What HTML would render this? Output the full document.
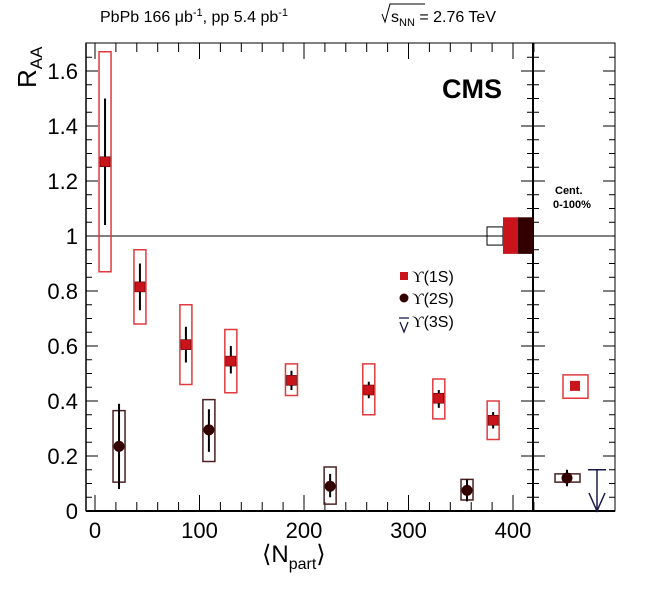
<!DOCTYPE html>
<html><head><meta charset="utf-8"><style>
body{margin:0;background:#fff}
svg{font-family:"Liberation Sans",sans-serif}
</style></head><body>
<svg id="c" width="653" height="586" xmlns="http://www.w3.org/2000/svg">
<text x="100" y="22" font-size="16">PbPb 166 μb<tspan dy="-6" font-size="11">-1</tspan><tspan dy="6">, pp 5.4 pb</tspan><tspan dy="-6" font-size="11">-1</tspan></text>
<g>
<path d="M382,14 L385,22 L390,4 L425,4" fill="none" stroke="#000" stroke-width="1"/>
<text x="391" y="22" font-size="16">s<tspan dy="4" font-size="11">NN</tspan><tspan dy="-4"> = 2.76 TeV</tspan></text>
</g>
<text x="442" y="98" font-size="27" font-weight="bold">CMS</text>
<text x="555" y="194" font-size="11" font-weight="bold">Cent.</text>
<text x="553" y="208" font-size="11" font-weight="bold">0-100%</text>
<text transform="translate(36,88) rotate(-90)" font-size="26">R<tspan dy="6" font-size="17">AA</tspan></text>
<text x="262" y="562" font-size="24">⟨N<tspan dy="7" font-size="16">part</tspan><tspan dy="-7">⟩</tspan></text>
<g id="g"></g>
</svg>
<script>
const npart1=[9.6,43,87,130,188,262,329,381];
const raa1=[1.27,0.815,0.605,0.545,0.475,0.44,0.41,0.33];
const stLo1=[1.04,0.73,0.54,0.50,0.44,0.41,0.375,0.30];
const stHi1=[1.50,0.90,0.67,0.60,0.51,0.47,0.44,0.36];
const syLo1=[0.87,0.68,0.46,0.43,0.42,0.35,0.335,0.26];
const syHi1=[1.67,0.95,0.75,0.66,0.535,0.535,0.48,0.40];
const npart2=[23,109,225,356];
const raa2=[0.235,0.295,0.09,0.075];
const stLo2=[0.08,0.215,0.05,0.035];
const stHi2=[0.39,0.37,0.135,0.115];
const syLo2=[0.105,0.18,0.025,0.04];
const syHi2=[0.365,0.405,0.16,0.115];
const mb1=[0.455,0.41,0.495];
const mb2=[0.12,0.105,0.135];
const ul3=[0.15];
const yTicks=[0,0.2,0.4,0.6,0.8,1,1.2,1.4,1.6];
const yTickLabels=["0","0.2","0.4","0.6","0.8","1","1.2","1.4","1.6"];
const xTicks=[0,100,200,300,400];

const L=86,R=533,R2=615,T=43,B=511;
const X=v=>95+v*1.045;
const Y=v=>511-v*275;
const g=document.getElementById('g');
const NS='http://www.w3.org/2000/svg';
function mk(t,a,name){const e=document.createElementNS(NS,t);for(const k in a)e.setAttribute(k,a[k]);


g.appendChild(e);return e;}
function line(x1,y1,x2,y2,name,c,w){return mk('line',{x1,y1,x2,y2,stroke:c||'#000','stroke-width':w||1},name);}
mk('rect',{x:L,y:T,width:R2-L,height:B-T,fill:'none',stroke:'#000','stroke-width':1},'plot-frame');
line(R,T,R,B,'panel-divider','#000',2);
line(L,B,R2,B,'x-axis','#000',2);
line(L,T,L,B,'y-axis','#000',1.5);
line(L,Y(1),R2,Y(1),'unity-line');
for(let v=0;v<=1.7;v+=0.05){const y=Y(v);const maj=Math.abs(v/0.2-Math.round(v/0.2))<0.01;const l=maj?12:6;
line(L,y,L+l,y,'y-tick');line(R-l,y,R+l,y,'divider-tick');line(R2-l,y,R2,y,'right-tick');}
yTicks.forEach((v,i)=>{const t=mk('text',{x:L-8,y:Y(v)+8,'font-size':22,'text-anchor':'end'},'y-tick-label');t.textContent=yTickLabels[i];});
for(let v=0;v<=420;v+=20){const x=X(v);const maj=v%100==0;const l=maj?16:9;line(x,B,x,B-l,'x-tick');line(x,T,x,T+l,'x-tick-top');}
xTicks.forEach(v=>{const t=mk('text',{x:X(v),y:538,'font-size':22,'text-anchor':'middle'},'x-tick-label');t.textContent=v;});
mk('rect',{x:487,y:Y(1.033),width:16,height:Y(0.967)-Y(1.033),fill:'none',stroke:'#000'},'global-unc-pp');
mk('rect',{x:503,y:Y(1.068),width:15,height:Y(0.935)-Y(1.068),fill:'#c8141a'},'global-unc-1s');
mk('rect',{x:518,y:Y(1.068),width:15,height:Y(0.935)-Y(1.068),fill:'#330000'},'global-unc-2s');
const red='#c8141a',dark='#330000';
npart1.forEach((n,i)=>{const x=X(n);
mk('rect',{x:x-6,y:Y(syHi1[i]),width:12,height:Y(syLo1[i])-Y(syHi1[i]),fill:'none',stroke:'#e03a3e','stroke-width':1.5},'syst-box-1s');
line(x,Y(stLo1[i]),x,Y(stHi1[i]),'stat-bar-1s','#000',2);
mk('rect',{x:x-5,y:Y(raa1[i])-5,width:10,height:10,fill:red,stroke:'#500',"stroke-width":0.6},'point-1s');});
npart2.forEach((n,i)=>{const x=X(n);
mk('rect',{x:x-6,y:Y(syHi2[i]),width:12,height:Y(syLo2[i])-Y(syHi2[i]),fill:'none',stroke:'#4a2020','stroke-width':1.5},'syst-box-2s');
line(x,Y(stLo2[i]),x,Y(stHi2[i]),'stat-bar-2s','#000',2);
mk('circle',{cx:x,cy:Y(raa2[i]),r:5.5,fill:dark},'point-2s');});
mk('rect',{x:563,y:Y(mb1[2]),width:25,height:Y(mb1[1])-Y(mb1[2]),fill:'none',stroke:'#e03a3e','stroke-width':1.5},'syst-box-1s-mb');
mk('rect',{x:570,y:Y(mb1[0])-5,width:10,height:10,fill:red},'point-1s-mb');
mk('rect',{x:555,y:Y(mb2[2]),width:25,height:Y(mb2[1])-Y(mb2[2]),fill:'none',stroke:'#4a2020','stroke-width':1.5},'syst-box-2s-mb');
line(567,Y(mb2[0]+0.03),567,Y(mb2[0]-0.03),'stat-bar-2s-mb','#000',2);
mk('circle',{cx:567,cy:Y(mb2[0]),r:5.5,fill:dark},'point-2s-mb');
const ax=597,nv='#1a1a4a';
line(ax-9,Y(ul3[0]),ax+9,Y(ul3[0]),'upper-limit-3s-cap',nv,1.5);
line(ax,Y(ul3[0]),ax,Y(0),'upper-limit-3s',nv,1.5);
mk('path',{d:`M${ax-8},${Y(0)-18} L${ax},${Y(0)} L${ax+8},${Y(0)-18}`,fill:'none',stroke:nv,'stroke-width':1.5},'upper-limit-3s-arrow');
mk('rect',{x:400,y:272,width:8,height:8,fill:red},'legend-marker-1s');
let t=mk('text',{x:412,y:282,'font-size':16},'legend-entry-1s');t.innerHTML='<tspan font-family="Liberation Serif">ϒ</tspan>(1S)';
mk('circle',{cx:404,cy:298,r:4.5,fill:dark},'legend-marker-2s');
t=mk('text',{x:412,y:304,'font-size':16},'legend-entry-2s');t.innerHTML='<tspan font-family="Liberation Serif">ϒ</tspan>(2S)';
line(399,318,409,318,'legend-marker-3s-cap',nv,1.3);
mk('path',{d:'M400,322 L404,332 L408,322',fill:'none',stroke:nv,'stroke-width':1.3},'legend-marker-3s');
t=mk('text',{x:412,y:327,'font-size':16},'legend-entry-3s');t.innerHTML='<tspan font-family="Liberation Serif">ϒ</tspan>(3S)';
</script>
</body></html>
